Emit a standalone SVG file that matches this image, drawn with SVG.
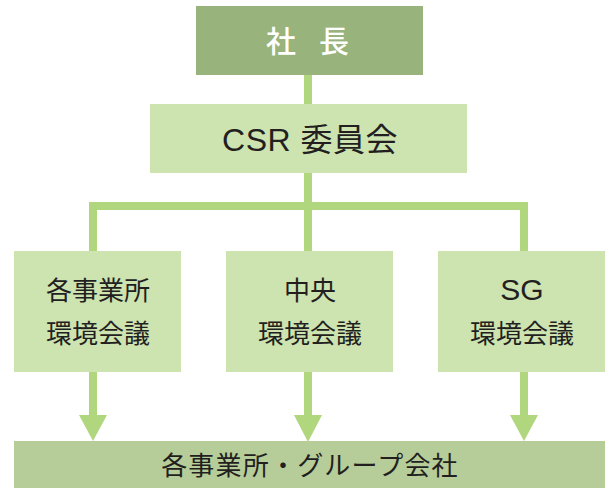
<svg xmlns="http://www.w3.org/2000/svg" width="608" height="488" viewBox="0 0 608 488">
<style>
.box{fill:#cde3b0}
.t{font-family:"Liberation Sans","Noto Sans CJK JP",sans-serif;fill:#231f20;text-anchor:middle}
.ln{stroke:#b0d67e;stroke-width:8;fill:none}
.ah{fill:#b0d67e}
</style>
<rect width="608" height="488" fill="#ffffff"/>
<g id="connectors">
<path class="ln" d="M308 75V104"/>
<path class="ln" d="M308 173V251"/>
<path class="ln" d="M93 251V206H524V251" stroke-linejoin="miter"/>
<path class="ln" d="M93 372V417"/>
<path class="ln" d="M308 372V417"/>
<path class="ln" d="M524 372V417"/>
<polygon class="ah" points="79,415 107,415 93,441"/>
<polygon class="ah" points="294,415 322,415 308,442"/>
<polygon class="ah" points="510,415 538,415 524,441"/>
</g>
<g id="president">
<rect x="196" y="6" width="227" height="69" fill="#98b37b"/>
<text x="266" y="52" font-family="Noto Sans CJK JP,sans-serif" font-size="30" fill="#ffffff" font-weight="500">社<tspan dx="23">長</tspan></text>
</g>
<g id="csr">
<rect class="box" x="150" y="104" width="317" height="69"/>
<text class="t" x="310" y="151" font-size="32" letter-spacing="0.5">CSR 委員会</text>
</g>
<g id="site">
<rect class="box" x="14" y="251" width="167" height="121"/>
<text class="t" x="98" y="300" font-size="26">各事業所</text>
<text class="t" x="98" y="343" font-size="26">環境会議</text>
</g>
<g id="central">
<rect class="box" x="226" y="251" width="167" height="121"/>
<text class="t" x="310" y="300" font-size="26">中央</text>
<text class="t" x="310" y="343" font-size="26">環境会議</text>
</g>
<g id="sg">
<rect class="box" x="438" y="251" width="167" height="121"/>
<text class="t" x="522" y="300" font-size="30">SG</text>
<text class="t" x="522" y="343" font-size="26">環境会議</text>
</g>
<g id="group">
<rect x="14" y="441" width="591" height="47" fill="#b6cd99"/>
<text class="t" x="310" y="475" font-size="26" letter-spacing="1.2">各事業所・グループ会社</text>
</g>
</svg>
